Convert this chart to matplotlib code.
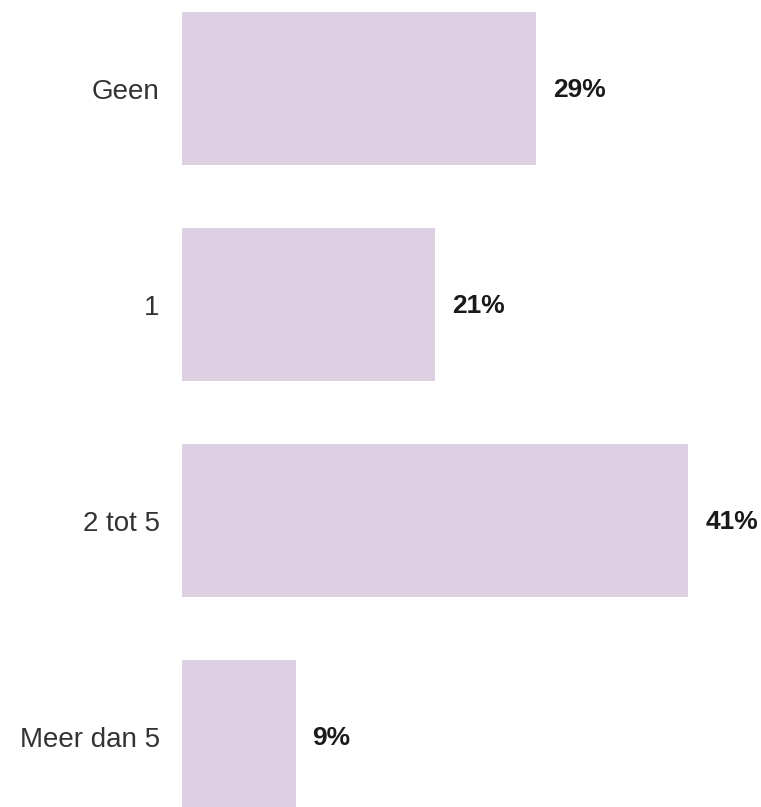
import matplotlib.pyplot as plt
import numpy as np

plt.rcParams['font.family'] = ['Liberation Sans', 'DejaVu Sans']

categories = ['Geen', '1', '2 tot 5', 'Meer dan 5']
values = [28.7, 20.5, 41.0, 9.2]
labels = ['29%', '21%', '41%', '9%']

fig = plt.figure(figsize=(7.61, 8.07), dpi=100)
ax = fig.add_axes([182 / 761, 0, 579 / 761, 1])

ind = np.arange(len(categories))
ax.barh(ind, values, height=0.708, color='#ddd0e3')

for i, (v, lab) in enumerate(zip(values, labels)):
    ax.annotate(lab, (v, i), xytext=(17, -1), textcoords='offset pixels',
                va='center', ha='left', fontsize=19, fontweight='bold', color='#1a1a1a')

ax.set_yticks(ind)
ax.set_yticklabels(categories, fontsize=20, color='#333333')
ax.tick_params(axis='y', length=0, pad=16)
ax.set_xticks([])
ax.set_xlim(0, 46.9)
ax.set_ylim(3.326, -0.410)
for s in ax.spines.values():
    s.set_visible(False)

fig.savefig('out.png', dpi=100)
